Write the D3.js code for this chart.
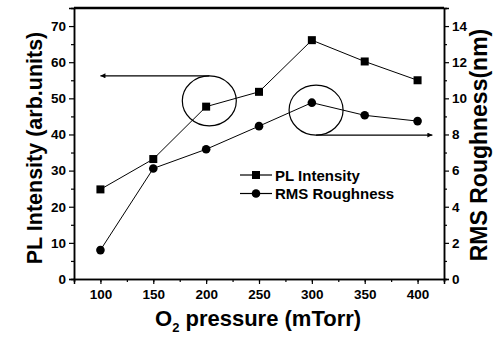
<!DOCTYPE html>
<html>
<head>
<meta charset="utf-8">
<script src="https://cdn.jsdelivr.net/npm/d3@7"></script>
<style>
  body { margin: 0; background: #fff; }
</style>
</head>
<body>
<div id="chart"></div>
<script>
// Data
const pressure = [100, 150, 200, 250, 300, 350, 400];
const plIntensity = [24.8, 33.2, 47.7, 51.8, 66.1, 60.2, 55.0];
const rmsRoughness = [1.6, 6.12, 7.18, 8.46, 9.76, 9.06, 8.74];
const xTicks = [100, 150, 200, 250, 300, 350, 400];
const leftTicks = [0, 10, 20, 30, 40, 50, 60, 70];
const rightTicks = [0, 2, 4, 6, 8, 10, 12, 14];

const FONT = "Liberation Sans, Arial, Helvetica, sans-serif";
const W = 504, H = 344;
const margin = {top: 8, right: 60, bottom: 65, left: 74};
const width = W - margin.left - margin.right;
const height = H - margin.top - margin.bottom;

const svg = d3.select("#chart").append("svg")
    .attr("width", W)
    .attr("height", H)
    .attr("font-family", FONT)
    .attr("font-weight", "bold");

const g = svg.append("g")
    .attr("transform", `translate(${margin.left},${margin.top})`);

const x = d3.scaleLinear().domain([75, 425]).range([0, width]);
const yL = d3.scaleLinear().domain([0, 75]).range([height, 0]);
const yR = d3.scaleLinear().domain([0, 15]).range([height, 0]);

// minor ticks first
g.append("g")
    .attr("transform", `translate(0,${height})`)
    .call(d3.axisBottom(x).tickValues(d3.range(75, 426, 25)).tickSize(3).tickFormat(""));
g.append("g")
    .call(d3.axisLeft(yL).tickValues(d3.range(5, 75, 10)).tickSize(3).tickFormat(""));
g.append("g")
    .attr("transform", `translate(${width},0)`)
    .call(d3.axisRight(yR).tickValues(d3.range(1, 15, 2)).tickSize(3).tickFormat(""));

// major axes
const xAxis = g.append("g")
    .attr("transform", `translate(0,${height})`)
    .call(d3.axisBottom(x).tickValues(xTicks).tickSize(5).tickPadding(5));
const lAxis = g.append("g")
    .call(d3.axisLeft(yL).tickValues(leftTicks).tickSize(5).tickPadding(3));
const rAxis = g.append("g")
    .attr("transform", `translate(${width},0)`)
    .call(d3.axisRight(yR).tickValues(rightTicks).tickSize(5).tickPadding(3));

g.selectAll("g").attr("font-family", FONT);
[xAxis, lAxis, rAxis].forEach(a => {
    a.selectAll("text")
        .attr("font-size", 13.5)
        .attr("font-weight", "bold")
        .attr("fill", "#000");
});
g.selectAll(".domain").attr("stroke-width", 1.5);
g.selectAll(".tick line").attr("stroke-width", 1.2);

// top frame
g.append("line")
    .attr("x1", 0).attr("x2", width)
    .attr("y1", 0).attr("y2", 0)
    .attr("stroke", "#000").attr("stroke-width", 2.5);

// series
const plData = pressure.map((p, i) => ({p, v: plIntensity[i]}));
const rmsData = pressure.map((p, i) => ({p, v: rmsRoughness[i]}));

g.append("path")
    .datum(plData)
    .attr("fill", "none").attr("stroke", "#000").attr("stroke-width", 1)
    .attr("d", d3.line().x(d => x(d.p)).y(d => yL(d.v)));
g.append("path")
    .datum(rmsData)
    .attr("fill", "none").attr("stroke", "#000").attr("stroke-width", 1)
    .attr("d", d3.line().x(d => x(d.p)).y(d => yR(d.v)));

const sq = 8;
g.selectAll(".sq").data(plData).enter().append("rect")
    .attr("x", d => x(d.p) - sq / 2)
    .attr("y", d => yL(d.v) - sq / 2)
    .attr("width", sq).attr("height", sq)
    .attr("fill", "#000");
g.selectAll(".dot").data(rmsData).enter().append("circle")
    .attr("cx", d => x(d.p))
    .attr("cy", d => yR(d.v))
    .attr("r", 4.3)
    .attr("fill", "#000");

// annotation circles + arrows
svg.append("defs").append("marker")
    .attr("id", "arrow")
    .attr("viewBox", "0 0 10 10")
    .attr("refX", 10).attr("refY", 5)
    .attr("markerWidth", 8).attr("markerHeight", 5)
    .attr("markerUnits", "userSpaceOnUse")
    .attr("orient", "auto")
    .append("path").attr("d", "M0,0L10,5L0,10z").attr("fill", "#000");

const c1 = {cx: x(203), cy: yL(49.3)};
const c2 = {cx: x(304), cy: yR(9.35)};
[c1, c2].forEach(c => {
    g.append("ellipse")
        .attr("cx", c.cx).attr("cy", c.cy)
        .attr("rx", 27).attr("ry", 25)
        .attr("fill", "none").attr("stroke", "#000").attr("stroke-width", 1.2);
});
g.append("line")
    .attr("x1", c1.cx).attr("y1", c1.cy - 25)
    .attr("x2", x(100)).attr("y2", c1.cy - 25)
    .attr("stroke", "#000").attr("stroke-width", 1.2)
    .attr("marker-end", "url(#arrow)");
g.append("line")
    .attr("x1", c2.cx).attr("y1", c2.cy + 25)
    .attr("x2", x(414)).attr("y2", c2.cy + 25)
    .attr("stroke", "#000").attr("stroke-width", 1.2)
    .attr("marker-end", "url(#arrow)");

// legend
const legend = g.append("g").attr("transform", `translate(${240 - margin.left},${175 - margin.top})`);
[{label: "PL Intensity", shape: "sq"}, {label: "RMS Roughness", shape: "dot"}].forEach((d, i) => {
    const row = legend.append("g").attr("transform", `translate(0,${i * 18.5})`);
    row.append("line").attr("x1", 0).attr("x2", 32).attr("y1", 0).attr("y2", 0)
        .attr("stroke", "#000").attr("stroke-width", 1.2);
    if (d.shape === "sq") {
        row.append("rect").attr("x", 16 - sq / 2).attr("y", -sq / 2)
            .attr("width", sq).attr("height", sq).attr("fill", "#000");
    } else {
        row.append("circle").attr("cx", 16).attr("cy", 0).attr("r", 4.3).attr("fill", "#000");
    }
    row.append("text").attr("x", 35).attr("y", 5.5)
        .attr("font-size", 15).text(d.label);
});

// axis titles
svg.append("text")
    .attr("transform", `translate(42,148) rotate(-90)`)
    .attr("text-anchor", "middle")
    .attr("font-size", 21.5)
    .text("PL Intensity (arb.units)");
svg.append("text")
    .attr("transform", `translate(487,145) rotate(-90)`)
    .attr("text-anchor", "middle")
    .attr("font-size", 23)
    .text("RMS Roughness(nm)");

const xt = svg.append("text")
    .attr("x", 155)
    .attr("y", 326)
    .attr("font-size", 22);
xt.append("tspan").text("O");
xt.append("tspan").attr("dy", 6).attr("font-size", 13).text("2");
xt.append("tspan").attr("dy", -6).text(" pressure (mTorr)");
</script>
</body>
</html>
